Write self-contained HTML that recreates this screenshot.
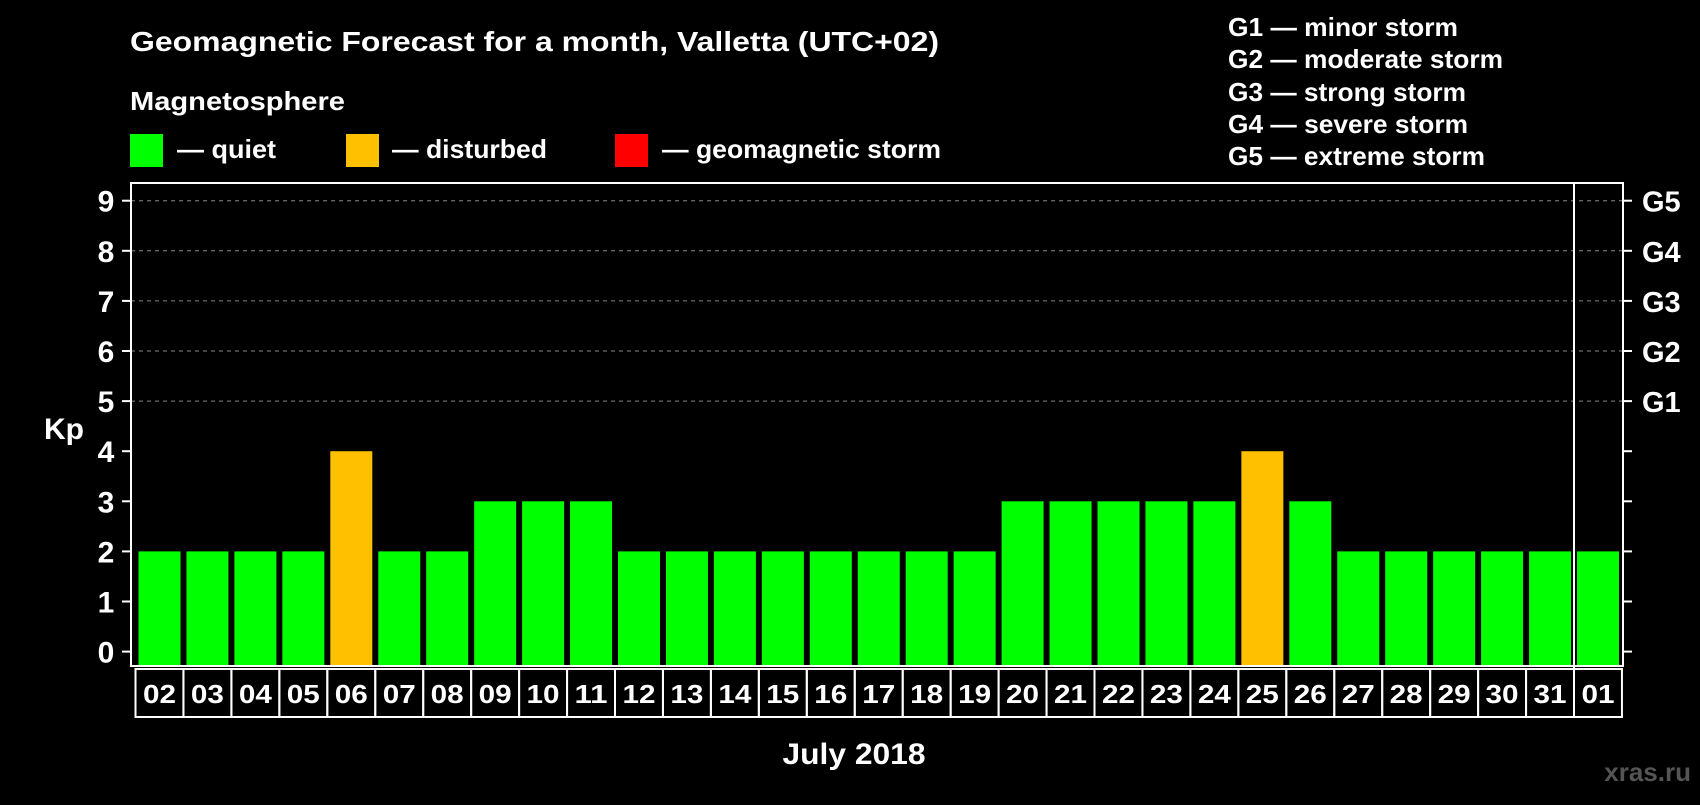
<!DOCTYPE html>
<html><head><meta charset="utf-8"><style>
body{margin:0;background:#000;width:1700px;height:800px;overflow:hidden;font-family:"Liberation Sans",sans-serif;}
svg text{font-family:"Liberation Sans",sans-serif;font-weight:bold;fill:#fff;}
</style></head><body>
<svg id="c" width="1700" height="800">
<text x="130" y="51" font-size="28" textLength="809" lengthAdjust="spacingAndGlyphs">Geomagnetic Forecast for a month, Valletta (UTC+02)</text>
<text x="130" y="110" font-size="26" textLength="215" lengthAdjust="spacingAndGlyphs">Magnetosphere</text>
<rect x="130" y="134" width="33" height="33" fill="#00ff00"/>
<text x="177" y="158" font-size="26" textLength="99" lengthAdjust="spacingAndGlyphs">— quiet</text>
<rect x="346" y="134" width="33" height="33" fill="#ffc000"/>
<text x="392" y="158" font-size="26" textLength="155" lengthAdjust="spacingAndGlyphs">— disturbed</text>
<rect x="615" y="134" width="33" height="33" fill="#ff0000"/>
<text x="662" y="158" font-size="26" textLength="279" lengthAdjust="spacingAndGlyphs">— geomagnetic storm</text>
<g font-size="26">
<text x="1228" y="36" textLength="230" lengthAdjust="spacingAndGlyphs">G1 — minor storm</text>
<text x="1228" y="68" textLength="275" lengthAdjust="spacingAndGlyphs">G2 — moderate storm</text>
<text x="1228" y="101" textLength="238" lengthAdjust="spacingAndGlyphs">G3 — strong storm</text>
<text x="1228" y="133" textLength="240" lengthAdjust="spacingAndGlyphs">G4 — severe storm</text>
<text x="1228" y="165" textLength="257" lengthAdjust="spacingAndGlyphs">G5 — extreme storm</text>
</g>
<text x="64" y="439" font-size="30" text-anchor="middle">Kp</text>
<text x="854" y="764" font-size="30" text-anchor="middle" textLength="143" lengthAdjust="spacingAndGlyphs">July 2018</text>
<text x="1691" y="781" font-size="26" text-anchor="end" style="fill:#555">xras.ru</text>
<g id="grid"></g><g id="bars"></g><g id="ax"></g>
</svg>
<script>
const days=["02","03","04","05","06","07","08","09","10","11","12","13","14","15","16","17","18","19","20","21","22","23","24","25","26","27","28","29","30","31","01"];
const kp=[2,2,2,2,4,2,2,3,3,3,2,2,2,2,2,2,2,2,3,3,3,3,3,4,3,2,2,2,2,2,2];
const yTicks=[0,1,2,3,4,5,6,7,8,9];
const gLabels=["","","","","","G1","G2","G3","G4","G5"];
const NS="http://www.w3.org/2000/svg";
const L=131,R=1623,T=183,B=666,X0=135.5,STEP=47.95,CELLH=48;
const y=v=>651.6-v*50.1;
const x=i=>X0+i*STEP;
function mk(t,a,p){const e=document.createElementNS(NS,t);for(const k in a)e.setAttribute(k,a[k]);p.appendChild(e);return e;}
const grid=document.getElementById('grid'),bars=document.getElementById('bars'),ax=document.getElementById('ax');
yTicks.forEach((v,i)=>{
 if(v>=5){const g=mk('line',{x1:L,x2:R,y1:y(v),y2:y(v),stroke:'#888','stroke-dasharray':'4,4','stroke-width':1},grid);
 
 }
 const t1=mk('line',{x1:L-9,x2:L,y1:y(v),y2:y(v),stroke:'#fff','stroke-width':2},ax);
 
 
 const t2=mk('line',{x1:R,x2:R+9,y1:y(v),y2:y(v),stroke:'#fff','stroke-width':2},ax);
 
 
 const lb=mk('text',{x:106,y:y(v)+11,'font-size':30,'text-anchor':'middle'},ax);lb.textContent=v;
 
 
 if(gLabels[i]){const gl=mk('text',{x:1642,y:y(v)+11,'font-size':29},ax);gl.textContent=gLabels[i];
 
 }
});
days.forEach((d,i)=>{
 const v=kp[i];const col=v>=5?'#ff0000':(v>=4?'#ffc000':'#00ff00');
 const b=mk('rect',{x:x(i)+3,y:y(v),width:42,height:B-y(v),fill:col},bars);
 
 
 const c=mk('rect',{x:x(i),y:B+3,width:STEP,height:CELLH,fill:'none',stroke:'#fff','stroke-width':2},ax);
 
 
 const t=mk('text',{x:x(i)+STEP/2,y:B+37,'font-size':26,'text-anchor':'middle',textLength:33,lengthAdjust:'spacingAndGlyphs'},ax);t.textContent=d;
 
 
});
const fr=mk('rect',{x:L,y:T,width:R-L,height:B-T,fill:'none',stroke:'#fff','stroke-width':2},ax);


const sep=mk('line',{x1:x(30),x2:x(30),y1:T,y2:B+3+CELLH,stroke:'#fff','stroke-width':2},ax);


</script>
</body></html>
